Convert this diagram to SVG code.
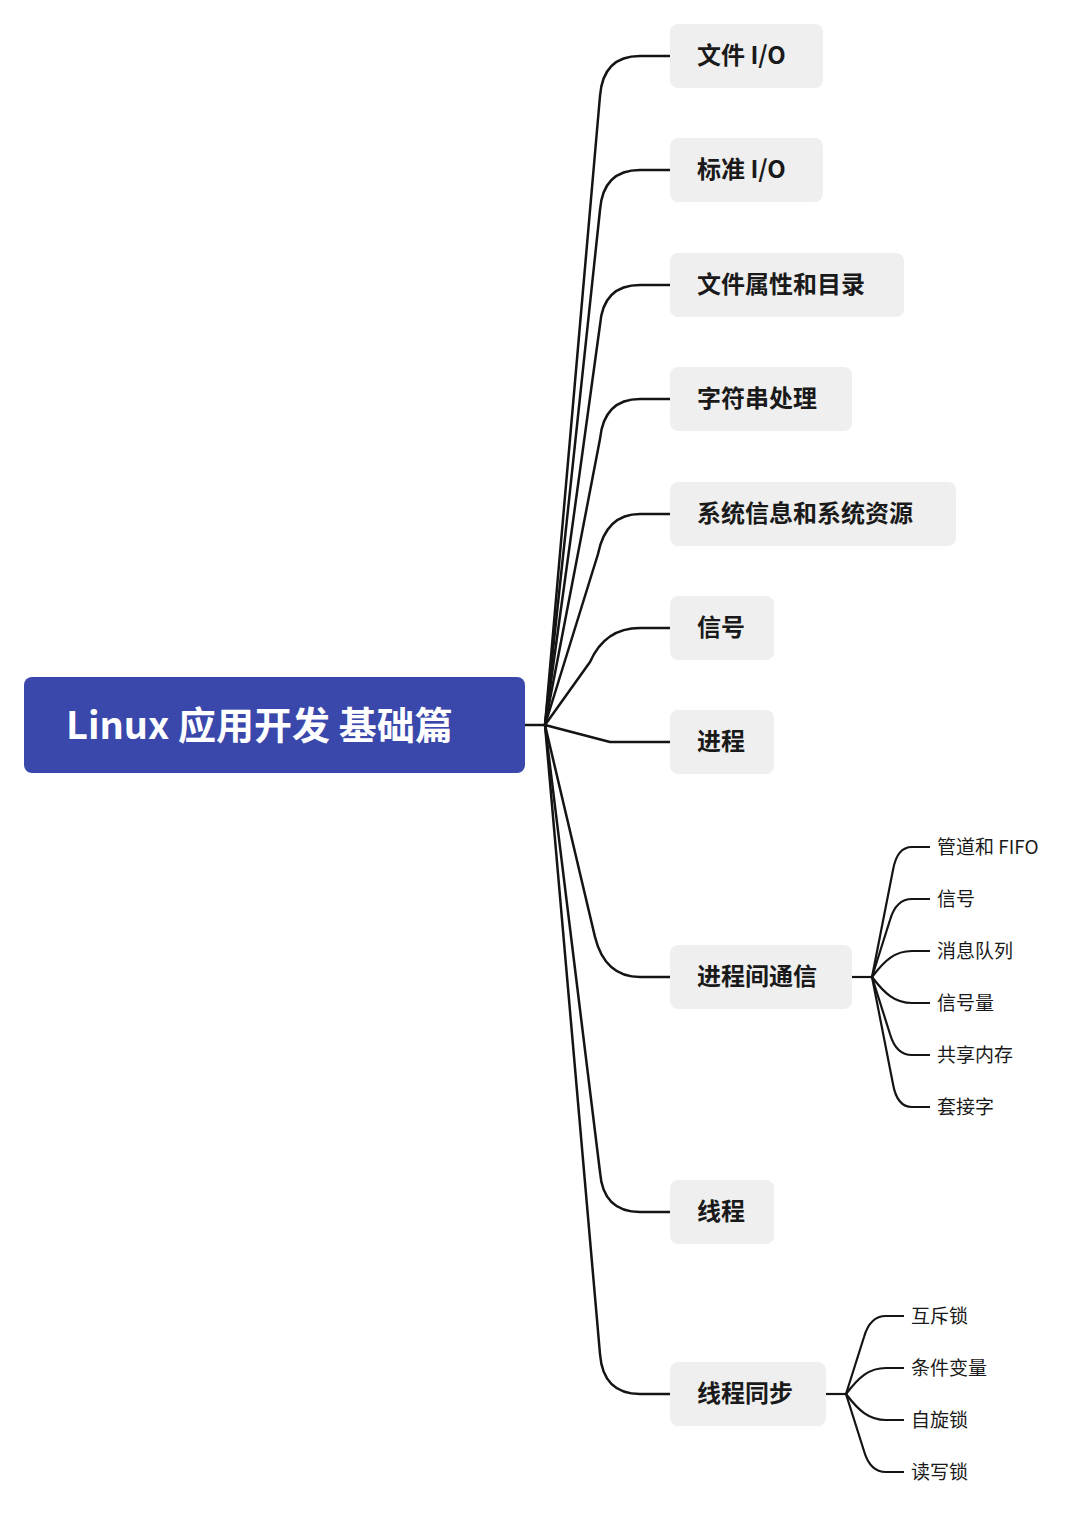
<svg xmlns="http://www.w3.org/2000/svg" width="1080" height="1519" viewBox="0 0 1080 1519">
<style>
.c{fill:none;stroke:#141414;stroke-width:2.5;stroke-linejoin:round}
.s{fill:none;stroke:#141414;stroke-width:2.2}
.b{fill:#efefef}
.t{font-family:"Noto Sans CJK SC","Liberation Sans",sans-serif;font-weight:bold;font-size:24px;fill:#1a1a1a}
.l{font-family:"Noto Sans CJK SC","Liberation Sans",sans-serif;font-size:19px;fill:#1a1a1a}
</style>
<rect width="1080" height="1519" fill="#fff"/>
<g id="connectors">
<path class="c" d="M525 725 H545"/>
<path class="c" d="M545 725 L600 96 Q603 56 640 56 H670"/>
<path class="c" d="M545 725 L600 210 Q603 170 640 170 H670"/>
<path class="c" d="M545 725 L600 325 Q603 285 640 285 H670"/>
<path class="c" d="M545 725 L600 439 Q604 399 640 399 H670"/>
<path class="c" d="M545 725 L598 554 Q606 514 640 514 H670"/>
<path class="c" d="M545 725 L590 662 Q605 628 640 628 H670"/>
<path class="c" d="M545 725 L610 742 H670"/>
<path class="c" d="M545 725 L595 937 Q605 977 640 977 H670"/>
<path class="c" d="M545 725 L600 1172 Q603 1212 640 1212 H670"/>
<path class="c" d="M545 725 L600 1354 Q603 1394 640 1394 H670"/>
<path class="s" d="M852 977 H872"/>
<path class="s" d="M872 977 L893 870 Q897 847 912 847 H930"/>
<path class="s" d="M872 977 L890 920 Q896 899 912 899 H930"/>
<path class="s" d="M872 977 C885 960 895 951 912 951 H930"/>
<path class="s" d="M872 977 C885 994 895 1003 912 1003 H930"/>
<path class="s" d="M872 977 L890 1034 Q896 1055 912 1055 H930"/>
<path class="s" d="M872 977 L893 1084 Q897 1107 912 1107 H930"/>
<path class="s" d="M826 1394 H846"/>
<path class="s" d="M846 1394 L864 1337 Q870 1316 886 1316 H904"/>
<path class="s" d="M846 1394 C859 1377 869 1368 886 1368 H904"/>
<path class="s" d="M846 1394 C859 1411 869 1420 886 1420 H904"/>
<path class="s" d="M846 1394 L864 1451 Q870 1472 886 1472 H904"/>
</g>
<g id="root"><rect x="24" y="677" width="501" height="96" rx="8" fill="#3a48ab"/><text x="66" y="739" font-family="Noto Sans CJK SC,Liberation Sans,sans-serif" font-weight="bold" font-size="38" fill="#fff">Linux 应用开发 基础篇</text></g>
<g id="n1"><rect class="b" x="670" y="24" width="153" height="64" rx="8"/><text class="t" x="697" y="64">文件 I/O</text></g>
<g id="n2"><rect class="b" x="670" y="138" width="153" height="64" rx="8"/><text class="t" x="697" y="178">标准 I/O</text></g>
<g id="n3"><rect class="b" x="670" y="253" width="234" height="64" rx="8"/><text class="t" x="697" y="293">文件属性和目录</text></g>
<g id="n4"><rect class="b" x="670" y="367" width="182" height="64" rx="8"/><text class="t" x="697" y="407">字符串处理</text></g>
<g id="n5"><rect class="b" x="670" y="482" width="286" height="64" rx="8"/><text class="t" x="697" y="522">系统信息和系统资源</text></g>
<g id="n6"><rect class="b" x="670" y="596" width="104" height="64" rx="8"/><text class="t" x="697" y="636">信号</text></g>
<g id="n7"><rect class="b" x="670" y="710" width="104" height="64" rx="8"/><text class="t" x="697" y="750">进程</text></g>
<g id="n8"><rect class="b" x="670" y="945" width="182" height="64" rx="8"/><text class="t" x="697" y="985">进程间通信</text></g>
<g id="n9"><rect class="b" x="670" y="1180" width="104" height="64" rx="8"/><text class="t" x="697" y="1220">线程</text></g>
<g id="n10"><rect class="b" x="670" y="1362" width="156" height="64" rx="8"/><text class="t" x="697" y="1402">线程同步</text></g>
<g id="ipc1"><text class="l" x="937" y="854">管道和 FIFO</text></g>
<g id="ipc2"><text class="l" x="937" y="906">信号</text></g>
<g id="ipc3"><text class="l" x="937" y="958">消息队列</text></g>
<g id="ipc4"><text class="l" x="937" y="1010">信号量</text></g>
<g id="ipc5"><text class="l" x="937" y="1062">共享内存</text></g>
<g id="ipc6"><text class="l" x="937" y="1114">套接字</text></g>
<g id="sync1"><text class="l" x="911" y="1323">互斥锁</text></g>
<g id="sync2"><text class="l" x="911" y="1375">条件变量</text></g>
<g id="sync3"><text class="l" x="911" y="1427">自旋锁</text></g>
<g id="sync4"><text class="l" x="911" y="1479">读写锁</text></g>
</svg>
